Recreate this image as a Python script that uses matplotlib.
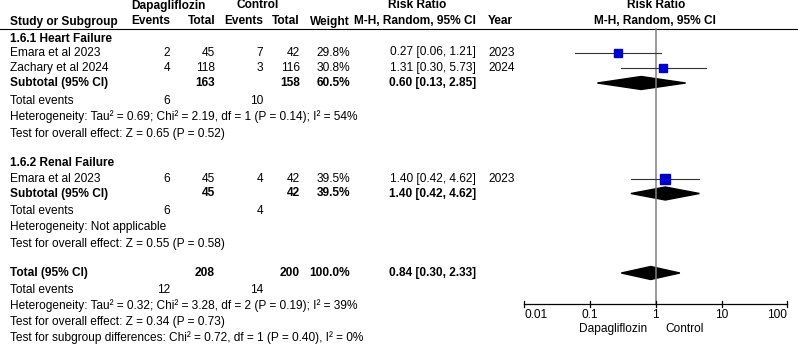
import matplotlib.pyplot as plt
from matplotlib.patches import Polygon

plt.rcParams['font.family'] = ['Liberation Sans', 'DejaVu Sans']

# dati: scompenso cardiaco (1.6.1)
studi_hf = ['Emara et al 2023', 'Zachary et al 2024']
ev_dapa_hf = [2, 4]
tot_dapa_hf = [45, 118]
ev_ctrl_hf = [7, 3]
tot_ctrl_hf = [42, 116]
peso_hf = [29.8, 30.8]
rr_hf = [0.27, 1.31]
lo_hf = [0.06, 0.30]
hi_hf = [1.21, 5.73]
anni_hf = [2023, 2024]
sub_hf = [0.60, 0.13, 2.85]

# dati: insufficienza renale (1.6.2)
studi_rf = ['Emara et al 2023']
ev_dapa_rf = [6]
tot_dapa_rf = [45]
ev_ctrl_rf = [4]
tot_ctrl_rf = [42]
peso_rf = [39.5]
rr_rf = [1.40]
lo_rf = [0.42]
hi_rf = [4.62]
anni_rf = [2023]
sub_rf = [1.40, 0.42, 4.62]

# totale
totale = [0.84, 0.30, 2.33]
tick_valori = [0.01, 0.1, 1, 10, 100]
tick_etichette = ['0.01', '0.1', '1', '10', '100']

W, H = 798, 344
fig = plt.figure(figsize=(W / 100, H / 100), dpi=100)
ax = fig.add_axes([0, 0, 1, 1])
ax.set_xlim(0, W)
ax.set_ylim(H, 0)
ax.axis('off')

# pannello forest con scala logaritmica
x0, x1 = 524.1, 787.3
fa = fig.add_axes([x0 / W, 0, (x1 - x0) / W, 1])
fa.set_xscale('log')
fa.set_xlim(0.01, 100)
fa.set_ylim(H, 0)
fa.axis('off')

FS = 8.6
col = '#000000'


def t(x, y, s, ha='left', bold=False, size=FS):
    ax.text(x, y, s, ha=ha, va='center', fontsize=size, color=col,
            fontweight='bold' if bold else 'normal')


xl = 10
# intestazione
t(168, 5.5, 'Dapagliflozin', ha='center', bold=True)
t(258, 5.5, 'Control', ha='center', bold=True)
t(417, 5.5, 'Risk Ratio', ha='center', bold=True)
t(655.7, 5.5, 'Risk Ratio', ha='center', bold=True)
t(xl, 21.5, 'Study or Subgroup', bold=True)
t(170, 21.5, 'Events', ha='right', bold=True)
t(215, 21.5, 'Total', ha='right', bold=True)
t(263, 21.5, 'Events', ha='right', bold=True)
t(300, 21.5, 'Total', ha='right', bold=True)
t(350, 21.5, 'Weight', ha='right', bold=True)
t(476, 21.5, 'M-H, Random, 95% CI', ha='right', bold=True)
t(488, 21.5, 'Year', bold=True)
t(655, 21.5, 'M-H, Random, 95% CI', ha='center', bold=True)
ax.plot([0, 797], [29, 29], color='black', lw=0.8)

# linea verticale del nullo
fa.plot([1, 1], [29, 304.3], color='#808080', lw=1.1, clip_on=False)


def riga_studio(y, nome, ed, td, ec, tc, w, rr, lo, hi, anno):
    t(xl, y, nome)
    t(170, y, str(ed), ha='right')
    t(215, y, str(td), ha='right')
    t(263, y, str(ec), ha='right')
    t(300, y, str(tc), ha='right')
    t(350, y, '%.1f%%' % w, ha='right')
    t(476, y, '%.2f [%.2f, %.2f]' % (rr, lo, hi), ha='right')
    t(488, y, str(anno))
    fa.plot([lo, hi], [y, y], color='#333333', lw=0.8, clip_on=False)
    lato = w * 0.235 * 72 / 100
    fa.plot([rr], [y], marker='s', ms=lato, color='#0000cc', mec='#0000cc', clip_on=False)


def diamante(y, stima, lo, hi, h=6.5):
    fa.add_patch(Polygon([(lo, y), (stima, y - h), (hi, y), (stima, y + h)],
                         closed=True, color='black', clip_on=False))


def riga_sub(y, etichetta, td, tc, w, stima, lo, hi):
    t(xl, y, etichetta, bold=True)
    t(215, y, str(td), ha='right', bold=True)
    t(300, y, str(tc), ha='right', bold=True)
    t(350, y, w, ha='right', bold=True)
    t(476, y, '%.2f [%.2f, %.2f]' % (stima, lo, hi), ha='right', bold=True)
    diamante(y, stima, lo, hi)


# gruppo 1.6.1
t(xl, 39, '1.6.1 Heart Failure', bold=True)
ys = [52.5, 68]
for i in range(len(studi_hf)):
    riga_studio(ys[i], studi_hf[i], ev_dapa_hf[i], tot_dapa_hf[i], ev_ctrl_hf[i],
                tot_ctrl_hf[i], peso_hf[i], rr_hf[i], lo_hf[i], hi_hf[i], anni_hf[i])
riga_sub(83, 'Subtotal (95% CI)', sum(tot_dapa_hf), sum(tot_ctrl_hf),
         '%.1f%%' % 60.5, sub_hf[0], sub_hf[1], sub_hf[2])
t(xl, 101, 'Total events')
t(170, 101, str(sum(ev_dapa_hf)), ha='right')
t(263, 101, str(sum(ev_ctrl_hf)), ha='right')
t(xl, 117, 'Heterogeneity: Tau\u00b2 = 0.69; Chi\u00b2 = 2.19, df = 1 (P = 0.14); I\u00b2 = 54%')
t(xl, 134, 'Test for overall effect: Z = 0.65 (P = 0.52)')

# gruppo 1.6.2
t(xl, 163, '1.6.2 Renal Failure', bold=True)
riga_studio(179, studi_rf[0], ev_dapa_rf[0], tot_dapa_rf[0], ev_ctrl_rf[0],
            tot_ctrl_rf[0], peso_rf[0], rr_rf[0], lo_rf[0], hi_rf[0], anni_rf[0])
riga_sub(193.5, 'Subtotal (95% CI)', sum(tot_dapa_rf), sum(tot_ctrl_rf),
         '%.1f%%' % sum(peso_rf), sub_rf[0], sub_rf[1], sub_rf[2])
t(xl, 211, 'Total events')
t(170, 211, str(sum(ev_dapa_rf)), ha='right')
t(263, 211, str(sum(ev_ctrl_rf)), ha='right')
t(xl, 227, 'Heterogeneity: Not applicable')
t(xl, 244, 'Test for overall effect: Z = 0.55 (P = 0.58)')

# totale
riga_sub(273, 'Total (95% CI)', sum(tot_dapa_hf) + sum(tot_dapa_rf),
         sum(tot_ctrl_hf) + sum(tot_ctrl_rf), '100.0%', totale[0], totale[1], totale[2])
t(xl, 290, 'Total events')
t(170, 290, str(sum(ev_dapa_hf) + sum(ev_dapa_rf)), ha='right')
t(263, 290, str(sum(ev_ctrl_hf) + sum(ev_ctrl_rf)), ha='right')
t(xl, 306, 'Heterogeneity: Tau\u00b2 = 0.32; Chi\u00b2 = 3.28, df = 2 (P = 0.19); I\u00b2 = 39%')
t(xl, 322, 'Test for overall effect: Z = 0.34 (P = 0.73)')
t(xl, 338, 'Test for subgroup differences: Chi\u00b2 = 0.72, df = 1 (P = 0.40), I\u00b2 = 0%')

# asse del forest plot
ya = 304.3
fa.plot([tick_valori[0], tick_valori[-1]], [ya, ya], color='black', lw=0.9, clip_on=False)
for k in range(len(tick_valori)):
    fa.plot([tick_valori[k], tick_valori[k]], [ya - 3.5, ya + 2.5], color='black',
            lw=0.9, clip_on=False)
    if k == 0:
        al = 'left'
    elif k == len(tick_valori) - 1:
        al = 'right'
    else:
        al = 'center'
    fa.text(tick_valori[k], 315.5, tick_etichette[k], ha=al, va='center',
            fontsize=FS, color=col)
fa.text(0.75, 329, 'Dapagliflozin', ha='right', va='center', fontsize=FS, color=col)
fa.text(1.4, 329, 'Control', ha='left', va='center', fontsize=FS, color=col)

fig.savefig('out.png', dpi=100)
